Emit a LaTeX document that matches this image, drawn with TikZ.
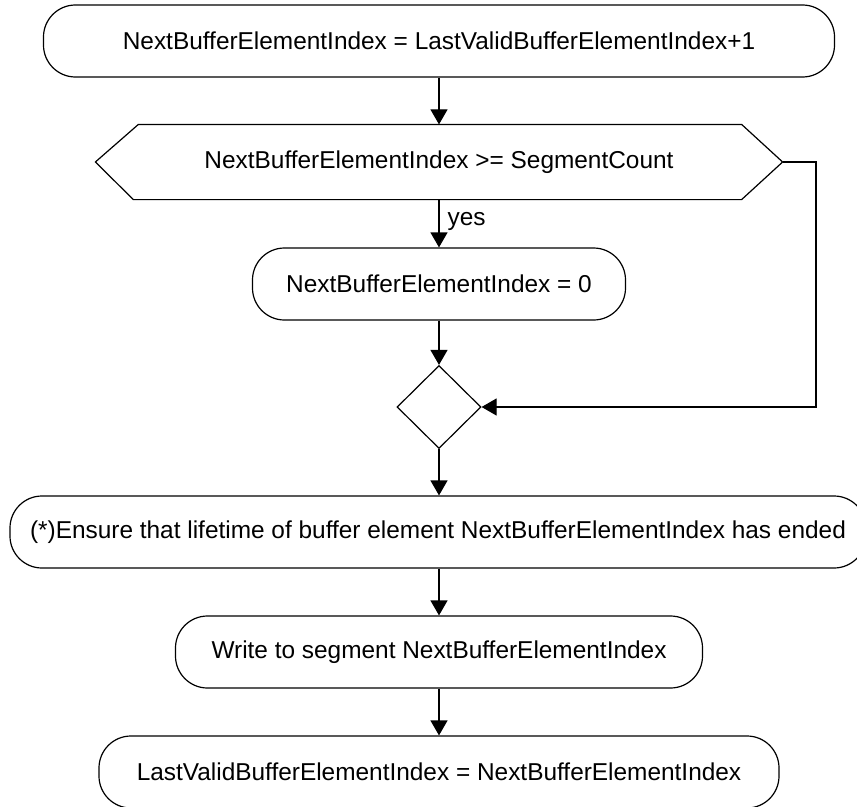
\documentclass[tikz,border=0pt]{standalone}
\usepackage{fontspec}
\setmainfont{Liberation Sans}
\usetikzlibrary{arrows.meta,shapes.geometric}
\begin{document}
\begin{tikzpicture}[x=1bp,y=-1bp,
  line width=1.2bp,
  every node/.style={font=\fontsize{24.5}{29}\selectfont},
  proc/.style={draw, rounded corners=32bp, minimum height=72bp, inner sep=0pt},
  flow/.style={-{Triangle[length=15bp,width=17bp]}},
  ]
\useasboundingbox (0,0) rectangle (857,807);

% process steps
\node[proc, minimum width=791bp] (init) at (439,41)
  {NextBufferElementIndex = LastValidBufferElementIndex+1};

% decision: hexagon drawn around an invisible text node
\node[minimum width=686bp, minimum height=74bp, inner sep=0pt] (test) at (439,162)
  {NextBufferElementIndex >= SegmentCount};
\draw ([xshift=43bp]test.north west) -- ([xshift=-41bp]test.north east)
  -- (test.east) -- ([xshift=-41bp]test.south east)
  -- ([xshift=38bp]test.south west) -- (test.west) -- cycle;

\node[proc, minimum width=373bp] (reset) at (439,284) {NextBufferElementIndex = 0};

\node[draw, diamond, minimum width=84bp, minimum height=83bp, inner sep=0pt] (merge) at (439,407) {};

\node[proc, minimum width=856bp] (ensure) at (438,532)
  {(*)Ensure that lifetime of buffer element NextBufferElementIndex has ended};

\node[proc, minimum width=527bp] (write) at (439,652) {Write to segment NextBufferElementIndex};

\node[proc, minimum width=680bp] (update) at (439,772)
  {LastValidBufferElementIndex = NextBufferElementIndex};

% connectors
\coordinate (turn) at (816,162);
\draw[flow] (init.south) -- (test.north);
\draw[flow] (test.south) -- node[pos=0.46, anchor=west, xshift=6bp, inner sep=2bp] {yes} (reset.north);
\draw[flow] (reset.south) -- (merge.north);
\draw[flow] (test.east) -- (turn) |- (merge.east);
\draw[flow] (merge.south) -- (ensure.north -| merge.south);
\draw[flow] (ensure.south -| merge.south) -- (write.north);
\draw[flow] (write.south) -- (update.north);
\end{tikzpicture}
\end{document}
